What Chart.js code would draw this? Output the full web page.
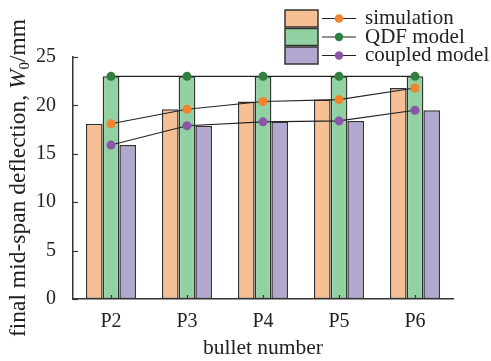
<!DOCTYPE html>
<html>
<head>
<meta charset="utf-8">
<script src="https://cdn.jsdelivr.net/npm/chart.js@4"></script>
<style>
  html, body { margin: 0; padding: 0; background: #fff; }
  #wrap { position: relative; width: 491px; height: 361px; }
</style>
</head>
<body>
<div id="wrap"><canvas id="deflectionChart" width="491" height="361"></canvas></div>
<script>
const bullets = ['P2', 'P3', 'P4', 'P5', 'P6'];
const simulation = [18.1, 19.6, 20.4, 20.6, 21.8];
const qdfModel = [23.0, 23.0, 23.0, 23.0, 23.0];
const coupledModel = [15.9, 17.9, 18.3, 18.4, 19.5];
const yTicks = [0, 5, 10, 15, 20, 25];

const seriesNames = ['simulation', 'QDF model', 'coupled model'];
const barFill = ['#f7bf94', '#92d1a1', '#b2a7cf'];
const dotFill = ['#f5822c', '#2f7f3f', '#8b56a8'];

const FONT = '"Liberation Serif", "Times New Roman", serif';
const INK = '#333';

// inward ticks, legend and axis titles
const decorations = {
  id: 'decorations',
  afterDraw(chart) {
    const ctx = chart.ctx;
    const x = chart.scales.x, y = chart.scales.y;
    const area = chart.chartArea;
    ctx.save();
    ctx.strokeStyle = INK;
    ctx.lineWidth = 1.2;
    yTicks.forEach(v => {
      const py = Math.round(y.getPixelForValue(v)) + 0.5;
      ctx.beginPath();
      ctx.moveTo(area.left, py);
      ctx.lineTo(area.left + 5, py);
      ctx.stroke();
    });
    bullets.forEach((b, i) => {
      const px = Math.round(x.getPixelForValue(i)) + 0.5;
      ctx.beginPath();
      ctx.moveTo(px, area.bottom);
      ctx.lineTo(px, area.bottom - 4);
      ctx.stroke();
    });

    // legend
    const rowTop = [10, 28.5, 47];
    ctx.font = '21px ' + FONT;
    ctx.textBaseline = 'middle';
    seriesNames.forEach((name, i) => {
      const top = rowTop[i];
      ctx.fillStyle = barFill[i];
      ctx.fillRect(285, top, 33, 17);
      ctx.lineWidth = 1.5;
      ctx.strokeStyle = INK;
      ctx.strokeRect(285, top, 33, 17);
      const cy = top + 8.5;
      ctx.lineWidth = 1.2;
      ctx.strokeStyle = '#222';
      ctx.beginPath();
      ctx.moveTo(322, cy);
      ctx.lineTo(356, cy);
      ctx.stroke();
      ctx.fillStyle = dotFill[i];
      ctx.beginPath();
      ctx.arc(339, cy, 4.2, 0, Math.PI * 2);
      ctx.fill();
      ctx.fillStyle = '#222';
      ctx.textAlign = 'left';
      ctx.fillText(name, 365, cy);
    });

    // x title
    ctx.font = '21.5px ' + FONT;
    ctx.textAlign = 'center';
    ctx.fillText('bullet number', 263, 348);

    // y title with italic W and subscript 0
    const parts = [
      { t: 'final mid-span deflection, ', f: '23.5px ' + FONT, dy: 0 },
      { t: 'W', f: 'italic 23.5px ' + FONT, dy: 0 },
      { t: '0', f: '15px ' + FONT, dy: 6 },
      { t: '/mm', f: '23.5px ' + FONT, dy: 0 }
    ];
    let total = 0;
    parts.forEach(p => { ctx.font = p.f; p.w = ctx.measureText(p.t).width; total += p.w; });
    ctx.translate(19, 178);
    ctx.rotate(-Math.PI / 2);
    ctx.textAlign = 'left';
    let cx = -total / 2;
    parts.forEach(p => {
      ctx.font = p.f;
      ctx.fillText(p.t, cx, p.dy);
      cx += p.w;
    });
    ctx.restore();
  }
};

function barSet(label, data, i) {
  return {
    type: 'bar', label, data, order: 2,
    backgroundColor: barFill[i],
    borderColor: INK, borderWidth: 1.5, borderSkipped: false
  };
}

function lineSet(label, data, i) {
  return {
    type: 'line', label, data, order: 1,
    borderColor: '#222', borderWidth: 1.1,
    pointRadius: 4.5, pointHoverRadius: 4.5,
    pointBackgroundColor: dotFill[i], pointBorderWidth: 0,
    tension: 0, fill: false
  };
}

new Chart(document.getElementById('deflectionChart'), {
  data: {
    labels: bullets,
    datasets: [
      barSet('simulation', simulation, 0),
      barSet('QDF model', qdfModel, 1),
      barSet('coupled model', coupledModel, 2),
      lineSet('simulation', simulation, 0),
      lineSet('QDF model', qdfModel, 1),
      lineSet('coupled model', coupledModel, 2)
    ]
  },
  options: {
    responsive: false,
    animation: false,
    layout: { padding: { top: 57, right: 38, left: 0, bottom: 0 } },
    datasets: { bar: { barPercentage: 1, categoryPercentage: 0.66 } },
    plugins: { legend: { display: false }, tooltip: { enabled: false } },
    scales: {
      x: {
        grid: { display: false },
        border: { color: INK, width: 1.5 },
        ticks: { color: '#222', font: { family: FONT, size: 20 }, padding: 3 },
        afterFit: s => { s.height = 62; }
      },
      y: {
        min: 0, max: 25,
        grid: { display: false },
        border: { color: INK, width: 1.5 },
        afterBuildTicks: s => { s.ticks = yTicks.map(v => ({ value: v })); },
        ticks: { color: '#222', font: { family: FONT, size: 20 }, padding: 9 },
        afterFit: s => { s.width = 73; }
      }
    }
  },
  plugins: [decorations]
});
</script>
</body>
</html>
